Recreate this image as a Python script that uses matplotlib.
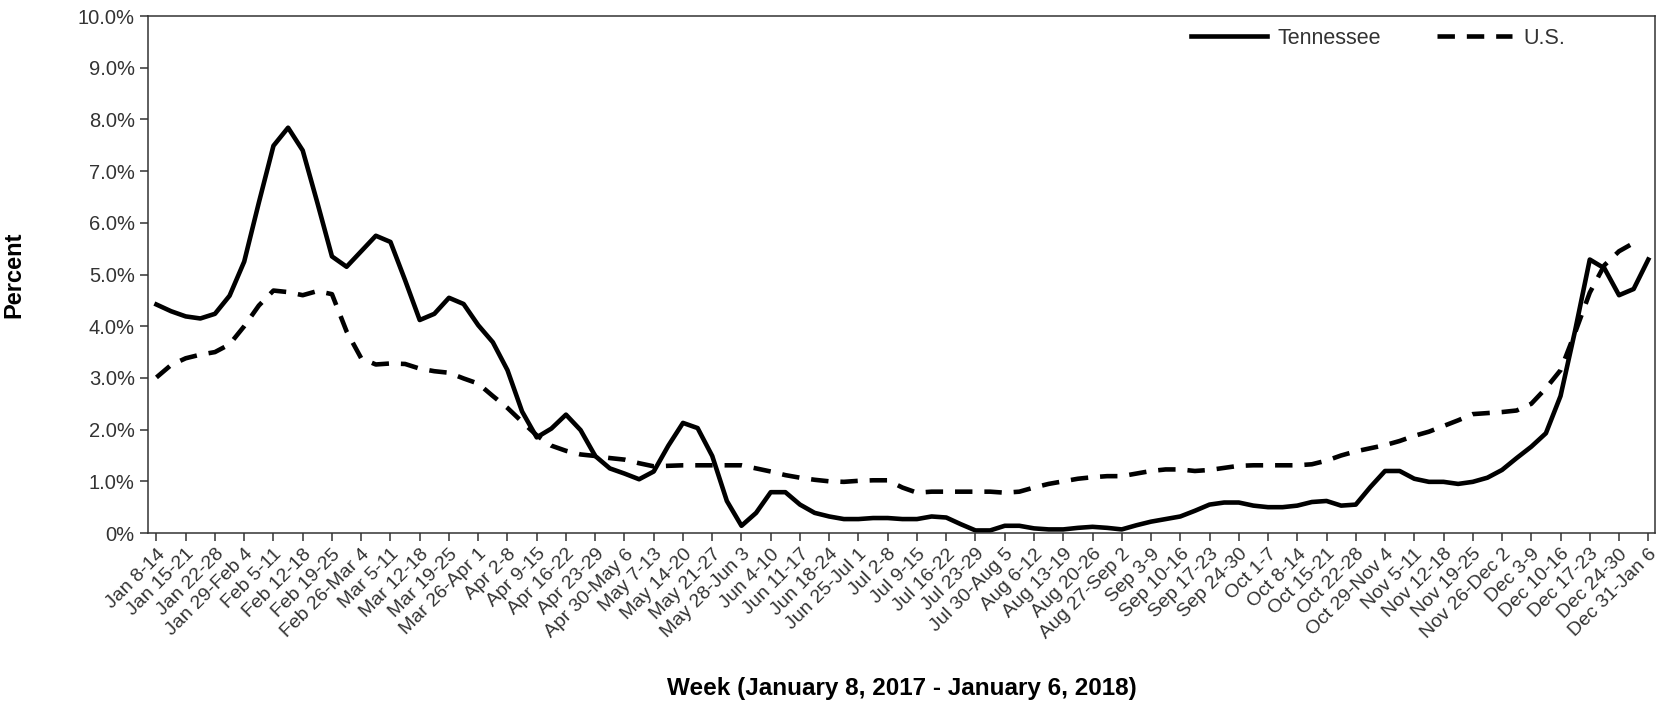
import numpy as np
import matplotlib
matplotlib.use("Agg")
import matplotlib.pyplot as plt
from matplotlib.ticker import FuncFormatter

plt.rcParams['font.family'] = ['Liberation Sans', 'DejaVu Sans']

# weekly labels (one tick per week); the series are sampled twice per tick
weeks = ["Jan 8-14", "Jan 15-21", "Jan 22-28", "Jan 29-Feb 4", "Feb 5-11", "Feb 12-18",
         "Feb 19-25", "Feb 26-Mar 4", "Mar 5-11", "Mar 12-18", "Mar 19-25", "Mar 26-Apr 1",
         "Apr 2-8", "Apr 9-15", "Apr 16-22", "Apr 23-29", "Apr 30-May 6", "May 7-13",
         "May 14-20", "May 21-27", "May 28-Jun 3", "Jun 4-10", "Jun 11-17", "Jun 18-24",
         "Jun 25-Jul 1", "Jul 2-8", "Jul 9-15", "Jul 16-22", "Jul 23-29", "Jul 30-Aug 5",
         "Aug 6-12", "Aug 13-19", "Aug 20-26", "Aug 27-Sep 2", "Sep 3-9", "Sep 10-16",
         "Sep 17-23", "Sep 24-30", "Oct 1-7", "Oct 8-14", "Oct 15-21", "Oct 22-28",
         "Oct 29-Nov 4", "Nov 5-11", "Nov 12-18", "Nov 19-25", "Nov 26-Dec 2", "Dec 3-9",
         "Dec 10-16", "Dec 17-23", "Dec 24-30", "Dec 31-Jan 6"]

tennessee = [4.42, 4.29, 4.19, 4.15, 4.24, 4.59, 5.25, 6.39, 7.49, 7.84,
             7.40, 6.39, 5.35, 5.15, 5.45, 5.75, 5.63, 4.89, 4.12, 4.24,
             4.55, 4.43, 4.02, 3.69, 3.15, 2.35, 1.85, 2.02, 2.29, 1.99,
             1.49, 1.25, 1.15, 1.04, 1.19, 1.69, 2.13, 2.03, 1.49, 0.62,
             0.14, 0.39, 0.79, 0.79, 0.55, 0.39, 0.32, 0.27, 0.27, 0.29,
             0.29, 0.27, 0.27, 0.32, 0.30, 0.17, 0.05, 0.05, 0.14, 0.14,
             0.09, 0.07, 0.07, 0.10, 0.12, 0.10, 0.07, 0.15, 0.22, 0.27,
             0.32, 0.43, 0.55, 0.59, 0.59, 0.53, 0.50, 0.50, 0.53, 0.60,
             0.62, 0.53, 0.55, 0.89, 1.20, 1.20, 1.05, 0.99, 0.99, 0.95,
             0.99, 1.07, 1.22, 1.45, 1.67, 1.93, 2.65, 3.92, 5.29, 5.12,
             4.60, 4.72, 5.29]

us = [3.01, 3.25, 3.38, 3.45, 3.50, 3.65, 4.00, 4.40, 4.69, 4.66,
      4.60, 4.68, 4.62, 3.90, 3.38, 3.26, 3.28, 3.27, 3.18, 3.13,
      3.10, 2.99, 2.89, 2.65, 2.42, 2.15, 1.89, 1.69, 1.59, 1.52,
      1.49, 1.45, 1.42, 1.35, 1.29, 1.30, 1.31, 1.31, 1.31, 1.31,
      1.31, 1.25, 1.19, 1.12, 1.07, 1.03, 1.00, 0.99, 1.01, 1.02,
      1.02, 0.88, 0.78, 0.80, 0.80, 0.80, 0.80, 0.80, 0.78, 0.80,
      0.88, 0.95, 1.00, 1.05, 1.08, 1.10, 1.10, 1.15, 1.20, 1.23,
      1.23, 1.20, 1.22, 1.26, 1.30, 1.31, 1.31, 1.31, 1.31, 1.33,
      1.40, 1.50, 1.58, 1.64, 1.70, 1.78, 1.88, 1.96, 2.07, 2.18,
      2.30, 2.32, 2.34, 2.37, 2.50, 2.80, 3.15, 3.88, 4.65, 5.18,
      5.45, 5.61]

fig = plt.figure(figsize=(16.57, 7.09), dpi=100)
ax = fig.add_axes([0.0893, 0.2482, 0.9095, 0.7292])

x_tn = np.arange(len(tennessee)) / 2.0
x_us = np.arange(len(us)) / 2.0
ax.plot(x_tn, tennessee, color='black', lw=3.3, label='Tennessee')
ax.plot(x_us, us, color='black', lw=3.3, dashes=(3.8, 2.6), label='U.S.')

ax.set_xlim(-0.29, len(weeks) - 1 + 0.23)
ax.set_ylim(0, 10)
ax.set_yticks(range(0, 11))
ax.yaxis.set_major_formatter(FuncFormatter(lambda v, p: "0%" if v == 0 else f"{v:.1f}%"))

ax.set_xticks(range(len(weeks)))
ax.set_xticklabels(weeks, rotation=45, ha='right', va='top', rotation_mode='anchor')

ax.tick_params(axis='both', direction='out', length=6, width=1.1, color='#333333',
               labelsize=14.5, labelcolor='#333333')
ax.tick_params(axis='x', pad=3, labelsize=14)
for s in ax.spines.values():
    s.set_color('#333333')
    s.set_linewidth(1.1)

ax.set_xlabel("Week (January 8, 2017 - January 6, 2018)", fontsize=17.5, fontweight='bold')
ax.xaxis.set_label_coords(0.5, -0.3, transform=ax.transAxes)
ax.xaxis.label.set_verticalalignment('center')
ax.set_ylabel("Percent", fontsize=17, fontweight='bold')
ax.yaxis.set_label_coords(-123 / 1507, 0.5, transform=ax.transAxes)

leg = ax.legend(loc='center right', bbox_to_anchor=(0.9403, 0.957), ncol=2, frameon=False,
                fontsize=15.5, handlelength=3.5, handletextpad=0.5, columnspacing=2.6,
                borderpad=0, borderaxespad=0)
for t in leg.get_texts():
    t.set_color('#333333')

fig.savefig("out.png", dpi=100)
